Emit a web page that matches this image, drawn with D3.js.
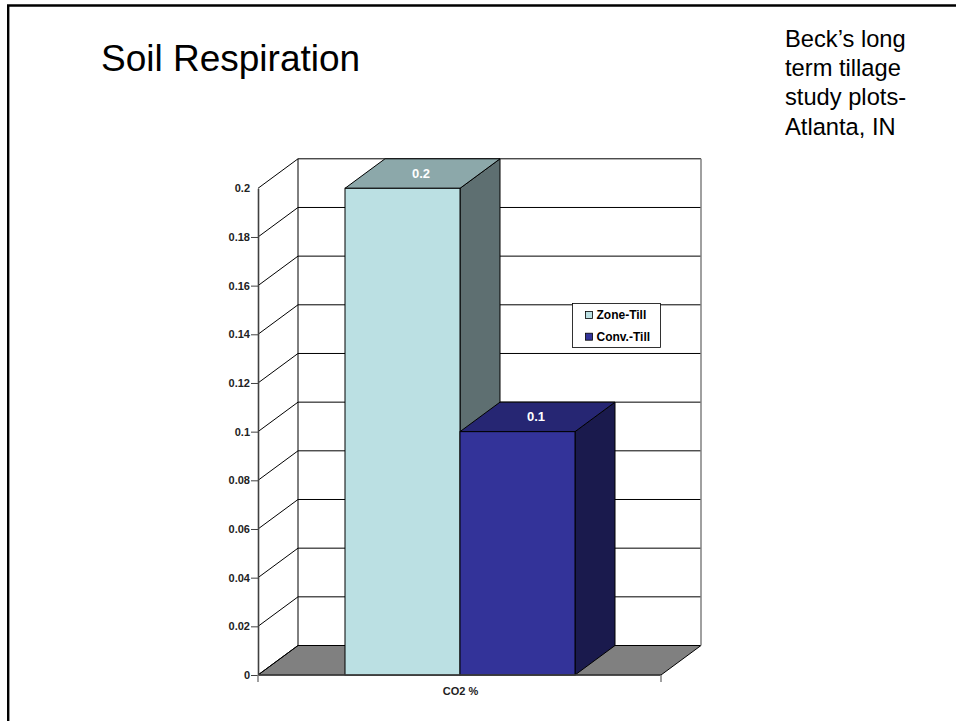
<!DOCTYPE html>
<html><head><meta charset="utf-8">
<script src="https://cdn.jsdelivr.net/npm/d3@7"></script>
<style>html,body{margin:0;padding:0;background:#fff}svg{display:block}text{font-family:"Liberation Sans",Arial,sans-serif}</style>
</head><body><svg id="c" width="956" height="721"></svg>
<script>
// Soil respiration: clustered 3-D column chart
const titleText = "Soil Respiration";
const noteLines = ["Beck’s long","term tillage","study plots-","Atlanta, IN"];
const category = "CO2 %";
const seriesNames = ["Zone-Till","Conv.-Till"];
const seriesValues = [0.2,0.1];
const valueLabels = ["0.2","0.1"];
const tickValues = [0,0.02,0.04,0.06,0.08,0.1,0.12,0.14,0.16,0.18,0.2];
const faceColors = ["#bbe0e3","#333399"];
const topColors = ["#8ca8aa","#262673"];
const sideColors = ["#5e6f71","#1a1a4d"];

const svg = d3.select("#c");
const depth = {x:40,y:-29.5};
const y = d3.scaleLinear().domain([0,0.2]).range([675,188.3]);
const x = d3.scaleBand().domain(seriesNames).range([345,575]);
const xOuter = d3.scaleLinear().domain([0,1]).range([258,661]);
const pts = a => a.map(p=>p.join(",")).join(" ");

// page frame
svg.append("path").attr("d","M8.2,721V5.5H956").attr("fill","none").attr("stroke","#000").attr("stroke-width",2.4);

// title and note
svg.append("text").text(titleText).attr("x",101).attr("y",71).attr("font-size",37).attr("fill","#000");
svg.append("g").selectAll("text").data(noteLines).join("text").text(d=>d)
  .attr("x",785).attr("y",(d,i)=>47+i*29.2).attr("font-size",23.7).attr("fill","#000");

// floor
const y0=y(0), xl=xOuter(0), xr=xOuter(1);
svg.append("polygon").attr("points",pts([[xl,y0],[xl+depth.x,y0+depth.y],[xr+depth.x,y0+depth.y],[xr,y0]]))
  .attr("fill","#808080").attr("stroke","#000").attr("stroke-width",1);

// back wall
svg.append("rect").attr("x",xl+depth.x).attr("y",y(0.2)+depth.y).attr("width",xr-xl).attr("height",y0-y(0.2))
  .attr("fill","#fff").attr("stroke","none");
svg.append("g").selectAll("line").data(tickValues).join("line")
  .attr("x1",xl).attr("x2",xl+depth.x).attr("y1",d=>y(d)).attr("y2",d=>y(d)+depth.y)
  .attr("stroke","#000").attr("stroke-width",1);
svg.append("g").selectAll("line").data(tickValues).join("line")
  .attr("x1",xl+depth.x).attr("x2",xr+depth.x).attr("y1",d=>y(d)+depth.y).attr("y2",d=>y(d)+depth.y)
  .attr("stroke","#000").attr("stroke-width",1);
svg.append("line").attr("x1",xl+depth.x).attr("x2",xl+depth.x).attr("y1",y(0.2)+depth.y).attr("y2",y0+depth.y).attr("stroke","#000");
svg.append("line").attr("x1",xr+depth.x).attr("x2",xr+depth.x).attr("y1",y(0.2)+depth.y).attr("y2",y0+depth.y).attr("stroke","#808080").attr("stroke-width",1.5);

// columns: side, top, front
seriesNames.forEach((name,i)=>{
  const v=seriesValues[i], x0=x(name), x1=x0+x.bandwidth(), t=y(v);
  const g=svg.append("g");
  g.append("polygon").attr("points",pts([[x1,t],[x1+depth.x,t+depth.y],[x1+depth.x,y0+depth.y],[x1,y0]]))
    .attr("fill",sideColors[i]).attr("stroke","#000").attr("stroke-width",1);
  g.append("polygon").attr("points",pts([[x0,t],[x0+depth.x,t+depth.y],[x1+depth.x,t+depth.y],[x1,t]]))
    .attr("fill",topColors[i]).attr("stroke","#000").attr("stroke-width",1);
  g.append("rect").attr("x",x0).attr("y",t).attr("width",x1-x0).attr("height",y0-t)
    .attr("fill",faceColors[i]).attr("stroke","#000").attr("stroke-width",1);
  g.append("text").text(valueLabels[i]).attr("x",(x0+x1)/2+depth.x/2-1.5).attr("y",t+depth.y/2+4.5)
    .attr("text-anchor","middle").attr("font-size",13).attr("font-weight","bold").attr("fill","#fff");
});

// value axis
const yAxis = d3.axisLeft(y).tickValues(tickValues).tickSize(7).tickSizeOuter(0).tickPadding(1).tickFormat(d=>String(d));
const ga = svg.append("g").attr("transform",`translate(${xl},0)`).call(yAxis);
ga.select(".domain").attr("stroke","#404040").attr("stroke-width",1.6);
ga.selectAll(".tick line").attr("stroke","#404040").attr("stroke-opacity",d=>d===0.2?0:1);
ga.selectAll("text").attr("font-size",11).attr("font-weight","bold").attr("fill","#222");

// category axis
svg.append("line").attr("x1",xl).attr("x2",xr).attr("y1",y0).attr("y2",y0).attr("stroke","#404040").attr("stroke-width",1.5);
svg.selectAll(".xt").data([xl,xr]).join("line").attr("class","xt").attr("x1",d=>d).attr("x2",d=>d).attr("y1",y0).attr("y2",y0+7).attr("stroke","#808080").attr("stroke-width",1.5);
svg.append("text").text(category).attr("x",460.5).attr("y",695).attr("text-anchor","middle")
  .attr("font-size",11).attr("font-weight","bold").attr("fill","#222");

// legend
const lg=svg.append("g");
lg.append("rect").attr("x",572.5).attr("y",303.5).attr("width",88).attr("height",44).attr("fill","#fff").attr("stroke","#000").attr("stroke-width",0.8);
seriesNames.forEach((name,i)=>{
  const yy=315+i*21.7;
  lg.append("rect").attr("x",585.5).attr("y",yy-3.5).attr("width",7).attr("height",7).attr("fill",faceColors[i]).attr("stroke","#000").attr("stroke-width",0.8);
  lg.append("text").text(name).attr("x",596.5).attr("y",yy+4).attr("font-size",12).attr("font-weight","bold").attr("fill","#000");
});
</script></body></html>
